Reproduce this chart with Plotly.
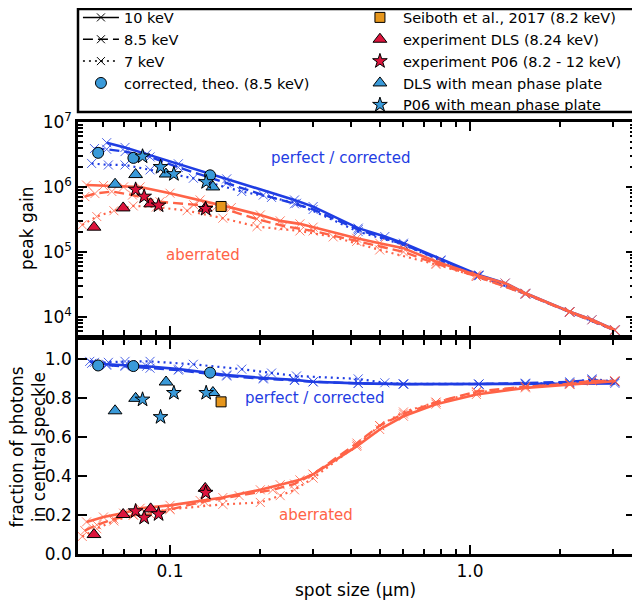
import plotly.graph_objects as go
from plotly.subplots import make_subplots

# ---------------- data ----------------
# simulated peak gain (top panel)
g10_perf_x = [0.0615, 0.0708, 0.0836, 0.1066, 0.1545, 0.26, 0.30, 0.424, 0.52, 0.6, 1.07, 1.31, 1.53, 2.15, 2.55, 3.04]
g10_perf_y = [4.8e6, 4.06e6, 3.2e6, 2.27e6, 1.33e6, 6.3e5, 4.98e5, 2.32e5, 1.72e5, 1.36e5, 4.4e4, 3.3e4, 2.3e4, 1.2e4, 9.0e3, 6.3e3]
g85_perf_x = [0.056, 0.0615, 0.0708, 0.0858, 0.1066, 0.1545, 0.2047, 0.26, 0.30, 0.424, 0.6, 0.8, 1.07, 1.53, 2.15, 3.04]
g85_perf_y = [3.9e6, 3.8e6, 3.5e6, 2.9e6, 2.0e6, 1.15e6, 7.5e5, 5.5e5, 4.5e5, 2.2e5, 1.3e5, 7.5e4, 4.3e4, 2.25e4, 1.18e4, 6.2e3]
g7_perf_x = [0.0548, 0.0623, 0.0708, 0.0858, 0.1196, 0.1734, 0.218, 0.264, 0.424, 0.6, 0.8, 1.07, 1.53, 2.15, 3.04]
g7_perf_y = [2.3e6, 2.18e6, 2.18e6, 1.83e6, 1.36e6, 8.5e5, 6.9e5, 5.6e5, 2.05e5, 1.29e5, 7.3e4, 4.3e4, 2.25e4, 1.18e4, 6.2e3]
g10_ab_x = [0.0527, 0.06, 0.07, 0.0795, 0.1, 0.126, 0.16, 0.2, 0.233, 0.271, 0.3, 0.419, 0.5, 0.6, 0.77, 1.05, 1.31, 1.53, 2.15, 2.55, 3.04]
g10_ab_y = [1.07e6, 1.05e6, 1.0e6, 1.0e6, 8.0e5, 6.3e5, 4.8e5, 3.7e5, 3.0e5, 2.7e5, 2.4e5, 1.62e5, 1.36e5, 1.14e5, 7.1e4, 4.4e4, 3.3e4, 2.3e4, 1.2e4, 9.0e3, 6.3e3]
g85_ab_x = [0.052, 0.0562, 0.064, 0.075, 0.0926, 0.12, 0.143, 0.195, 0.239, 0.3, 0.419, 0.6, 0.77, 1.05, 1.53, 2.15, 3.04]
g85_ab_y = [7.1e5, 7.9e5, 8.5e5, 7.5e5, 5.9e5, 5.3e5, 5.0e5, 3.2e5, 2.5e5, 2.1e5, 1.45e5, 1.0e5, 6.6e4, 4.2e4, 2.25e4, 1.18e4, 6.2e3]
g7_ab_x = [0.051, 0.057, 0.065, 0.0754, 0.09, 0.114, 0.15, 0.195, 0.271, 0.35, 0.5, 0.77, 1.05, 1.53, 2.15, 3.04]
g7_ab_y = [2.6e5, 3.5e5, 4.3e5, 5.1e5, 4.9e5, 4.3e5, 3.3e5, 2.45e5, 2.1e5, 1.7e5, 1.07e5, 6.4e4, 4.2e4, 2.25e4, 1.18e4, 6.2e3]

# simulated fraction of photons in central speckle (bottom panel)
f10_perf_x = [0.054, 0.0615, 0.0708, 0.0836, 0.107, 0.1545, 0.2047, 0.26, 0.30, 0.424, 0.6, 1.07, 1.53, 2.15, 3.04]
f10_perf_y = [0.99, 0.975, 0.97, 0.965, 0.95, 0.92, 0.905, 0.895, 0.885, 0.877, 0.873, 0.873, 0.873, 0.875, 0.877]
f85_perf_x = [0.056, 0.0615, 0.0708, 0.0858, 0.1066, 0.1545, 0.2047, 0.26, 0.30, 0.424, 0.6, 1.07, 1.53, 2.15, 2.55, 3.04]
f85_perf_y = [0.985, 0.97, 0.965, 0.955, 0.945, 0.915, 0.9, 0.892, 0.885, 0.877, 0.873, 0.873, 0.878, 0.885, 0.895, 0.885]
f7_perf_x = [0.0548, 0.0623, 0.0708, 0.0858, 0.1196, 0.1734, 0.218, 0.264, 0.424, 0.52, 0.6, 1.07, 1.53, 2.15, 2.55, 3.04]
f7_perf_y = [0.98, 0.985, 0.99, 0.99, 0.975, 0.95, 0.93, 0.915, 0.9, 0.88, 0.875, 0.873, 0.875, 0.88, 0.9, 0.885]
f10_ab_x = [0.0527, 0.06, 0.07, 0.0795, 0.1, 0.126, 0.15, 0.2, 0.233, 0.271, 0.3, 0.419, 0.5, 0.6, 0.77, 1.05, 1.53, 2.15, 3.04]
f10_ab_y = [0.165, 0.19, 0.21, 0.235, 0.25, 0.275, 0.29, 0.33, 0.356, 0.381, 0.41, 0.553, 0.64, 0.708, 0.77, 0.82, 0.854, 0.871, 0.888]
f85_ab_x = [0.052, 0.057, 0.065, 0.0755, 0.0858, 0.1, 0.13, 0.17, 0.22, 0.26, 0.3, 0.42, 0.5, 0.6, 0.77, 1.05, 1.53, 2.15, 2.55, 3.04]
f85_ab_y = [0.12, 0.15, 0.18, 0.2, 0.205, 0.23, 0.27, 0.3, 0.33, 0.36, 0.41, 0.57, 0.66, 0.72, 0.78, 0.835, 0.86, 0.875, 0.89, 0.89]
f7_ab_x = [0.051, 0.057, 0.065, 0.0755, 0.1, 0.15, 0.2, 0.233, 0.26, 0.3, 0.42, 0.5, 0.6, 0.77, 1.05, 1.53, 2.15, 2.55, 3.04]
f7_ab_y = [0.09, 0.13, 0.17, 0.2, 0.23, 0.255, 0.265, 0.3, 0.33, 0.39, 0.56, 0.66, 0.73, 0.78, 0.83, 0.86, 0.875, 0.89, 0.89]

# measured / reference points
corr_x = [0.0576, 0.0755, 0.136]
corr_gain = [3.35e6, 2.8e6, 1.51e6]
corr_frac = [0.969, 0.966, 0.932]
seib_x = [0.148]
seib_gain = [5.0e5]
seib_frac = [0.782]
dls_x = [0.0558, 0.0698, 0.0862, 0.131]
dls_gain = [2.4e5, 4.75e5, 5.5e5, 4.7e5]
dls_frac = [0.10, 0.203, 0.232, 0.337]
p06_x = [0.0768, 0.082, 0.0916, 0.1315]
p06_gain = [9.1e5, 7.1e5, 5.2e5, 4.6e5]
p06_frac = [0.22, 0.187, 0.205, 0.315]
dlsm_x = [0.0656, 0.0768, 0.097, 0.139]
dlsm_gain = [1.1e6, 1.55e6, 1.58e6, 1.0e6]
dlsm_frac = [0.736, 0.80, 0.884, 0.83]
p06m_x = [0.081, 0.093, 0.103, 0.132]
p06m_gain = [2.95e6, 2.03e6, 1.58e6, 1.19e6]
p06m_frac = [0.794, 0.704, 0.828, 0.828]

x_major = [0.1, 1.0]
x_major_text = ["0.1", "1.0"]
x_minor = [0.06, 0.07, 0.08, 0.09, 0.2, 0.3, 0.4, 0.5, 0.6, 0.7, 0.8, 0.9, 2, 3]
g_major = [1e4, 1e5, 1e6, 1e7]
g_major_text = ["10<sup>4</sup>", "10<sup>5</sup>", "10<sup>6</sup>", "10<sup>7</sup>"]
g_minor = [m * 10 ** e for e in (3, 4, 5, 6) for m in range(2, 10) if m * 10 ** e > 5200]
f_major = [0.0, 0.2, 0.4, 0.6, 0.8, 1.0]
f_major_text = ["0.0", "0.2", "0.4", "0.6", "0.8", "1.0"]

# ---------------- style ----------------
BLUE = "#1f3de3"
RED = "#ff6347"
CRIMSON = "#dc143c"
LBLUE = "#3a9ad9"
ORANGE = "#e6961c"
FONT = "DejaVu Sans"
DASH = {"solid": "solid", "dash": "10px,5px", "dot": "2px,4px"}

fig = make_subplots(rows=2, cols=1, shared_xaxes=True, vertical_spacing=0.01)

curves = [
    (1, g10_perf_x, g10_perf_y, BLUE, "solid", 2.6),
    (1, g85_perf_x, g85_perf_y, BLUE, "dash", 2.4),
    (1, g7_perf_x, g7_perf_y, BLUE, "dot", 2.2),
    (1, g10_ab_x, g10_ab_y, RED, "solid", 2.6),
    (1, g85_ab_x, g85_ab_y, RED, "dash", 2.4),
    (1, g7_ab_x, g7_ab_y, RED, "dot", 2.2),
    (2, f10_perf_x, f10_perf_y, BLUE, "solid", 2.6),
    (2, f85_perf_x, f85_perf_y, BLUE, "dash", 2.4),
    (2, f7_perf_x, f7_perf_y, BLUE, "dot", 2.2),
    (2, f10_ab_x, f10_ab_y, RED, "solid", 2.6),
    (2, f85_ab_x, f85_ab_y, RED, "dash", 2.4),
    (2, f7_ab_x, f7_ab_y, RED, "dot", 2.2),
]
for row, xs, ys, col, dash, w in curves:
    fig.add_trace(go.Scatter(
        x=xs, y=ys, mode="lines+markers", showlegend=False, hoverinfo="skip",
        line=dict(color=col, width=w, dash=DASH[dash]),
        marker=dict(symbol="x-thin", size=9, color=col, opacity=0.8,
                    line=dict(width=1, color=col)),
    ), row=row, col=1)

# legend-only entries for line styles
legend_lines = [("10 keV", "solid", 1), ("8.5 keV", "dash", 3), ("7 keV", "dot", 5)]
for name, dash, rank in legend_lines:
    fig.add_trace(go.Scatter(
        x=[None], y=[None], mode="lines+markers", name=name, legendrank=rank,
        line=dict(color="black", width=1.5, dash=DASH[dash]),
        marker=dict(symbol="x-thin", size=8, color="black", line=dict(width=1, color="black")),
    ), row=1, col=1)

points = [
    ("corrected, theo. (8.5 keV)", corr_x, corr_gain, corr_frac, "circle", LBLUE, 11, 7),
    ("Seiboth et al., 2017 (8.2 keV)", seib_x, seib_gain, seib_frac, "square", ORANGE, 10, 2),
    ("experiment DLS (8.24 keV)", dls_x, dls_gain, dls_frac, "triangle-up", CRIMSON, 12, 4),
    ("experiment P06 (8.2 - 12 keV)", p06_x, p06_gain, p06_frac, "star", CRIMSON, 11, 6),
    ("DLS with mean phase plate", dlsm_x, dlsm_gain, dlsm_frac, "triangle-up", LBLUE, 12, 8),
    ("P06 with mean phase plate", p06m_x, p06m_gain, p06m_frac, "star", LBLUE, 11, 10),
]
for name, xs, gs, fs, sym, col, size, rank in points:
    mk = dict(symbol=sym, size=size, color=col, line=dict(width=1, color="black"))
    fig.add_trace(go.Scatter(x=xs, y=gs, mode="markers", name=name, legendrank=rank,
                             marker=mk, hoverinfo="skip"), row=1, col=1)
    fig.add_trace(go.Scatter(x=xs, y=fs, mode="markers", name=name, showlegend=False,
                             marker=mk, hoverinfo="skip"), row=2, col=1)

# blank legend slot so that the last entry sits in the second column
fig.add_trace(go.Scatter(x=[None], y=[None], mode="markers", name=" ", legendrank=9,
                         marker=dict(color="rgba(0,0,0,0)", size=1)), row=1, col=1)

axis_common = dict(
    showline=True, linewidth=2.5, linecolor="black", mirror="allticks",
    ticks="inside", ticklen=9, tickwidth=2, tickcolor="black",
    showgrid=False, zeroline=False,
    tickfont=dict(family=FONT, size=17, color="black"),
)
minor_common = dict(ticks="inside", ticklen=5, tickwidth=1.5, tickcolor="black", showgrid=False)

fig.update_xaxes(type="log", range=[-1.3067, 0.55], tickmode="array",
                 tickvals=x_major, ticktext=x_major_text,
                 minor=dict(tickvals=x_minor, **minor_common), **axis_common)
fig.update_xaxes(showticklabels=False, row=1, col=1)
fig.update_yaxes(type="log", range=[3.72, 7.0], tickmode="array", tickvals=g_major,
                 ticktext=g_major_text, minor=dict(tickvals=g_minor, **minor_common),
                 domain=[0.507, 1.0], row=1, col=1, **axis_common)
fig.update_yaxes(range=[0, 1.1], tickmode="array", tickvals=f_major, ticktext=f_major_text,
                 domain=[0.0, 0.4954], row=2, col=1, **axis_common)

ann = [
    ("perfect / corrected", 0.4704, 0.9167, BLUE, 15, 0),
    ("perfect / corrected", 0.4237, 0.3611, BLUE, 15, 0),
    ("aberrated", 0.2244, 0.6921, RED, 15, 0),
    ("aberrated", 0.4273, 0.0903, RED, 15, 0),
    ("peak gain", -0.0916, 0.7546, "black", 17, -90),
    ("fraction of photons<br>in central speckle", -0.0905, 0.2477, "black", 17, -90),
    ("spot size (µm)", 0.499, -0.0833, "black", 17, 0),
]
for text, x, y, col, size, ang in ann:
    fig.add_annotation(text=text, x=x, y=y, xref="paper", yref="paper", showarrow=False,
                       textangle=ang, xanchor="center", yanchor="middle",
                       font=dict(family=FONT, size=size, color=col))

# frame around the legend area
fig.add_shape(type="rect", xref="paper", yref="paper", x0=0.0, x1=1.0036, y0=1.0231, y1=1.2616,
              line=dict(color="black", width=2.5), fillcolor="rgba(0,0,0,0)", layer="above")

# the page body adds an 8 px offset, so the figure is laid out 8 px up/left
fig.update_layout(
    width=640, height=601,
    margin=dict(l=70, r=13, t=114, b=55, autoexpand=False),
    paper_bgcolor="white", plot_bgcolor="white",
    font=dict(family=FONT, size=15, color="black"),
    legend=dict(
        orientation="h", x=-0.0001, xanchor="left", y=1.279, yanchor="top",
        entrywidth=228, entrywidthmode="pixels",
        borderwidth=0, bgcolor="rgba(0,0,0,0)",
        font=dict(family=FONT, size=14.5, color="black"),
        traceorder="normal", itemwidth=36,
    ),
)

fig.write_html("out.html")
